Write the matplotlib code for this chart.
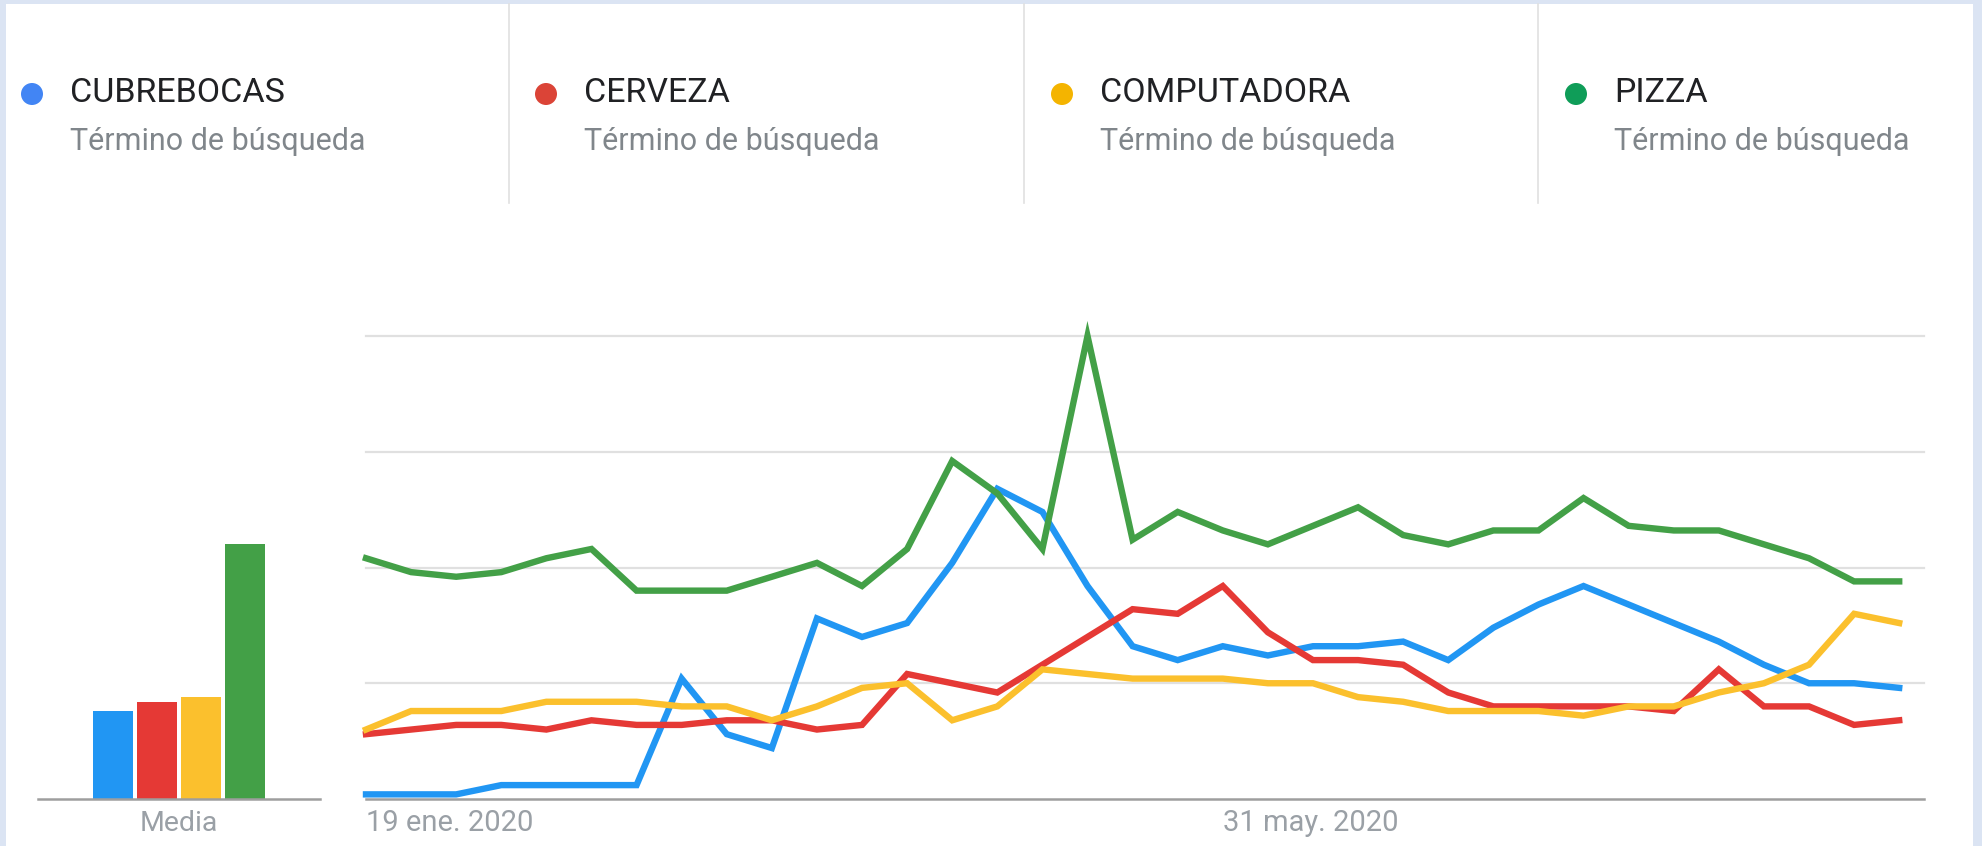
import matplotlib
matplotlib.use("Agg")
import matplotlib.pyplot as plt
from matplotlib.patches import Rectangle, Circle
from matplotlib.lines import Line2D

plt.rcParams['font.family'] = ['Roboto', 'DejaVu Sans']

# ---------------- data ----------------
terms = ["CUBREBOCAS", "CERVEZA", "COMPUTADORA", "PIZZA"]
subtitle = "Término de búsqueda"
line_colors = ["#2196f3", "#e53935", "#fbc02d", "#43a047"]
dot_colors = ["#4285f4", "#db4437", "#f4b400", "#0f9d58"]

cubrebocas = [1, 1, 1, 3, 3, 3, 3, 26, 14, 11, 39, 35, 38, 51, 67, 62, 46, 33,
              30, 33, 31, 33, 33, 34, 30, 37, 42, 46, 42, 38, 34, 29, 25, 25, 24]
cerveza = [14, 15, 16, 16, 15, 17, 16, 16, 17, 17, 15, 16, 27, 25, 23, 29, 35, 41,
           40, 46, 36, 30, 30, 29, 23, 20, 20, 20, 20, 19, 28, 20, 20, 16, 17]
computadora = [15, 19, 19, 19, 21, 21, 21, 20, 20, 17, 20, 24, 25, 17, 20, 28, 27, 26,
               26, 26, 25, 25, 22, 21, 19, 19, 19, 18, 20, 20, 23, 25, 29, 40, 38]
pizza = [52, 49, 48, 49, 52, 54, 45, 45, 45, 48, 51, 46, 54, 73, 66, 54, 100, 56,
         62, 58, 55, 59, 63, 57, 55, 58, 58, 65, 59, 58, 58, 55, 52, 47, 47]
series = [cubrebocas, cerveza, computadora, pizza]

media = [19, 21, 22, 55]
bar_label = "Media"

tick_idx = [0, 19]
tick_labels = ["19 ene. 2020", "31 may. 2020"]
grid_levels = [25, 50, 75, 100]

# ---------------- figure ----------------
W, H = 1982, 846
fig = plt.figure(figsize=(W / 100, H / 100), dpi=100, facecolor="#dbe4f3")


def rect(l, t, r, b):
    return [l / W, 1 - b / H, (r - l) / W, (b - t) / H]


# white panel
bg = fig.add_axes([0, 0, 1, 1])
bg.set_xlim(0, W)
bg.set_ylim(H, 0)
bg.axis("off")
bg.add_patch(Rectangle((6, 4), 1967, H, facecolor="white", edgecolor="none"))

# legend header
item_x = [32, 546, 1062, 1576]
for i, (term, c) in enumerate(zip(terms, dot_colors)):
    x = item_x[i]
    bg.add_patch(Circle((x, 94), 11, facecolor=c, edgecolor="none"))
    bg.text(x + 38, 93, term, fontsize=24.5, color="#202124", va="center", ha="left")
    bg.text(x + 38, 142, subtitle, fontsize=22, color="#80868b", va="center", ha="left")
for x in [509, 1024, 1538]:
    bg.add_line(Line2D([x, x], [4, 203], color="#e0e0e0", lw=1.2))

# ---------------- line chart ----------------
ax = fig.add_axes(rect(366, 336, 1924, 799))
n = len(pizza)
xs = list(range(n))
ax.set_xlim(0, n - 1 + 0.55)
ax.set_ylim(0, 100)
for g in grid_levels:
    ax.axhline(g, color="#e0e0e0", lw=1.6, zorder=0, clip_on=False)
ax.axhline(0, color="#9e9e9e", lw=1.8, zorder=0, clip_on=False)
for s, c in zip(series, line_colors):
    ax.plot(xs, s, color=c, lw=4.6, solid_joinstyle="miter", clip_on=False, zorder=3)
ax.axis("off")
for i, lab in zip(tick_idx, tick_labels):
    ax.text(i, -5.2, lab, fontsize=21, color="#9aa0a6", ha="left", va="center",
            transform=ax.transData)

# ---------------- bar chart ----------------
bx = fig.add_axes(rect(38, 336, 320, 799))
bx.set_xlim(-1.70, 4.70)
bx.set_ylim(0, 100)
bx.bar(range(len(media)), media, width=0.91, color=line_colors, zorder=2)
bx.axhline(0, color="#9e9e9e", lw=1.8, zorder=3, clip_on=False)
bx.axis("off")
bx.text(1.5, -5.2, bar_label, fontsize=20.5, color="#9aa0a6", ha="center", va="center")

fig.savefig("out.png", dpi=100, facecolor=fig.get_facecolor())
